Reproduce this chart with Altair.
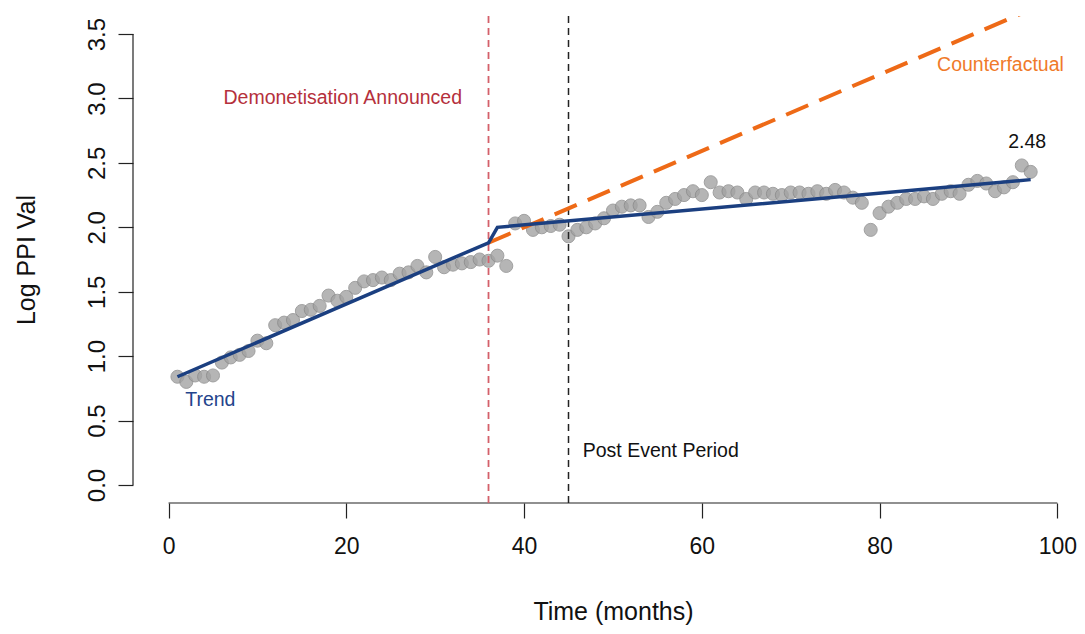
import altair as alt
import pandas as pd

# ---- data ----
months = list(range(1, 98))
log_ppi = [0.84, 0.80, 0.85, 0.84, 0.85, 0.95, 0.99, 1.01, 1.04, 1.12,
           1.10, 1.24, 1.26, 1.28, 1.35, 1.36, 1.39, 1.47, 1.43, 1.46,
           1.53, 1.58, 1.59, 1.61, 1.59, 1.64, 1.65, 1.70, 1.65, 1.77,
           1.69, 1.71, 1.72, 1.73, 1.75, 1.74, 1.78, 1.70, 2.03, 2.05,
           1.98, 2.00, 2.01, 2.02, 1.93, 1.98, 2.00, 2.03, 2.07, 2.13,
           2.16, 2.17, 2.17, 2.08, 2.12, 2.19, 2.22, 2.25, 2.28, 2.25,
           2.35, 2.27, 2.28, 2.27, 2.22, 2.27, 2.27, 2.26, 2.25, 2.27,
           2.27, 2.26, 2.28, 2.26, 2.29, 2.27, 2.23, 2.19, 1.98, 2.11,
           2.16, 2.19, 2.22, 2.22, 2.24, 2.22, 2.26, 2.28, 2.26, 2.33,
           2.36, 2.34, 2.28, 2.31, 2.35, 2.48, 2.43]

trend_x = [1, 36, 37, 97]
trend_y = [0.84, 1.88, 2.00, 2.37]

cf_x = [36, 97]
cf_y = [1.88, 3.69]

event_x = [36]
post_x = [45]

x_ticks = [0, 20, 40, 60, 80, 100]
y_ticks = [0.0, 0.5, 1.0, 1.5, 2.0, 2.5, 3.0, 3.5]

labels_text = ["Demonetisation Announced", "Counterfactual", "Trend", "Post Event Period", "2.48"]
labels_x = [19.6, 93.6, 4.7, 46.6, 96.6]
labels_y = [3.0, 3.26, 0.66, 0.26, 2.66]
labels_col = ["#B5303C", "#F07A2A", "#23448C", "#111111", "#111111"]
labels_align = ["center", "center", "center", "left", "center"]

FONT = "Liberation Sans"
W, H = 951, 487

xs = alt.Scale(domain=[-4, 103], nice=False, zero=False)
ys = alt.Scale(domain=[-0.14, 3.64], nice=False, zero=False)

pts_df = pd.DataFrame({"t": months, "v": log_ppi})
trend_df = pd.DataFrame({"t": trend_x, "v": trend_y})
cf_df = pd.DataFrame({"t": cf_x, "v": cf_y})
ev_df = pd.DataFrame({"t": event_x})
post_df = pd.DataFrame({"t": post_x})
lab_df = pd.DataFrame({"t": labels_x, "v": labels_y, "txt": labels_text,
                       "col": labels_col, "al": labels_align})
xaxis_df = pd.DataFrame({"t": [x_ticks[0]], "t2": [x_ticks[-1]]})
yaxis_df = pd.DataFrame({"v": [y_ticks[0]], "v2": [y_ticks[-1]]})

x_enc = alt.X("t:Q", scale=xs,
              axis=alt.Axis(values=x_ticks, domain=False, grid=False, tickSize=15,
                            tickColor="#222222", tickWidth=1.2,
                            labelFont=FONT, labelFontSize=23, labelColor="#111111",
                            labelPadding=17,
                            title="Time (months)", titleFont=FONT, titleFontSize=25,
                            titleFontWeight="normal", titleColor="#111111",
                            titlePadding=41, titleX=480))
y_enc = alt.Y("v:Q", scale=ys,
              axis=alt.Axis(values=y_ticks, domain=False, grid=False, tickSize=15,
                            tickColor="#222222", tickWidth=1.2, format=".1f",
                            labelFont=FONT, labelFontSize=24, labelColor="#111111",
                            labelAngle=270, labelAlign="center", labelBaseline="bottom",
                            labelPadding=9,
                            title="Log PPI Val", titleFont=FONT, titleFontSize=25,
                            titleFontWeight="normal", titleColor="#111111",
                            titlePadding=46))

points = alt.Chart(pts_df).mark_circle(size=170, color="#A3A3A3", opacity=0.8,
                                       stroke="#8A8A8A", strokeWidth=1).encode(x=x_enc, y=y_enc)

trend = alt.Chart(trend_df).mark_line(color="#1B3F80", strokeWidth=3.5).encode(
    x=alt.X("t:Q", scale=xs), y=alt.Y("v:Q", scale=ys))

cf = alt.Chart(cf_df).mark_line(color="#EE6A17", strokeWidth=4, strokeDash=[24, 12],
                                clip=True).encode(
    x=alt.X("t:Q", scale=xs), y=alt.Y("v:Q", scale=ys))

ev = alt.Chart(ev_df).mark_rule(color="#D4606A", strokeWidth=1.8, strokeDash=[7, 5]).encode(
    x=alt.X("t:Q", scale=xs), y=alt.value(0), y2=alt.value(H))

post = alt.Chart(post_df).mark_rule(color="#222222", strokeWidth=1.5, strokeDash=[7, 5]).encode(
    x=alt.X("t:Q", scale=xs), y=alt.value(0), y2=alt.value(H))

xaxis_line = alt.Chart(xaxis_df).mark_rule(color="#222222", strokeWidth=1.2).encode(
    x=alt.X("t:Q", scale=xs), x2="t2:Q", y=alt.value(H))

yaxis_line = alt.Chart(yaxis_df).mark_rule(color="#222222", strokeWidth=1.2).encode(
    y=alt.Y("v:Q", scale=ys), y2="v2:Q", x=alt.value(0))

texts = []
for i in range(len(labels_text)):
    sub = lab_df.iloc[[i]]
    texts.append(alt.Chart(sub).mark_text(font=FONT, fontSize=19.5, color=labels_col[i],
                                          align=labels_align[i], baseline="middle").encode(
        x=alt.X("t:Q", scale=xs), y=alt.Y("v:Q", scale=ys), text="txt:N"))

chart = alt.layer(points, xaxis_line, yaxis_line, ev, post, cf, trend, *texts).properties(
    width=W, height=H, autosize="none",
    padding={"left": 133, "top": 16, "right": 1, "bottom": 131},
    background="white"
).configure_view(stroke=None)

chart.save("out.html", embed_options={"renderer": "svg", "actions": False})
